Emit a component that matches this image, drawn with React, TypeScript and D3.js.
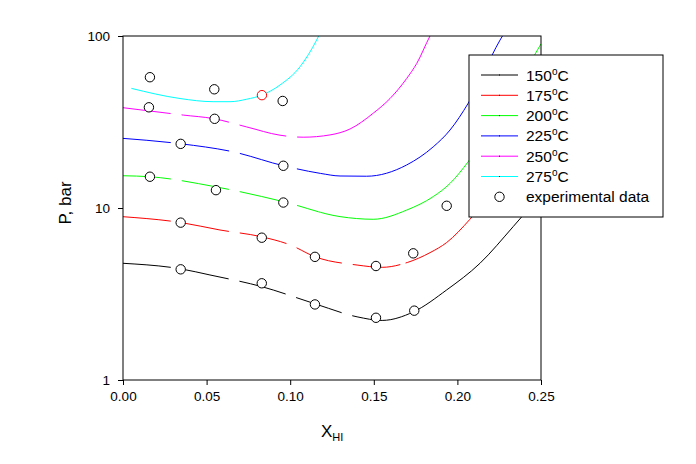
import { useEffect, useRef } from 'react';
import * as d3 from 'd3';

// model curves, [x_HI, P bar]
const curve150 = [
  [0, 4.77], [0.035, 4.42], [0.052, 4.08], [0.083, 3.49], [0.115, 2.77], [0.14, 2.33],
  [0.155, 2.22], [0.1737, 2.49], [0.1936, 3.34], [0.2135, 4.77], [0.2334, 7.8], [0.25, 12],
];
const curve175 = [
  [0, 8.9], [0.035, 8.22], [0.058, 7.45], [0.083, 6.8], [0.1, 6.1], [0.115, 5.2], [0.14, 4.66],
  [0.155, 4.52], [0.17, 4.82], [0.1836, 5.5], [0.1936, 6.3], [0.2075, 8.6], [0.225, 14], [0.25, 25],
];
const curve200 = [
  [0, 15.4], [0.016, 15.2], [0.055, 13.3], [0.096, 10.88], [0.1298, 8.91], [0.1497, 8.6],
  [0.1697, 9.73], [0.1856, 11.66], [0.1956, 13.9], [0.2065, 18.6], [0.225, 35], [0.25, 90],
];
const curve225 = [
  [0, 25.4], [0.035, 23.6], [0.066, 21.2], [0.096, 17.6], [0.118, 15.9], [0.1298, 15.35],
  [0.1457, 15.3], [0.1697, 17.8], [0.1856, 22.7], [0.1956, 28.4], [0.2065, 40.7], [0.2255, 94.7],
  [0.232, 120],
];
const curve250 = [
  [0, 38.3], [0.036, 34.7], [0.054, 33.1], [0.074, 29.6], [0.0939, 26.5], [0.1078, 25.8],
  [0.1238, 26.6], [0.1358, 28.8], [0.1497, 35.6], [0.1597, 43.3], [0.1697, 56.7],
  [0.1757, 69.3], [0.1836, 100], [0.187, 115],
];
const curve275 = [
  [0.005, 49.6], [0.0341, 43.3], [0.054, 41.5], [0.064, 41.5], [0.074, 42.9], [0.083, 45.3],
  [0.0939, 51.9], [0.1059, 66.3], [0.1158, 94.7], [0.12, 115],
];

const seriesNames = ['150', '175', '200', '225', '250', '275'];
const seriesCurves = [curve150, curve175, curve200, curve225, curve250, curve275];

// experimental data
const expX = [
  0.0161, 0.0546, 0.0955, 0.0155, 0.0548, 0.0345, 0.0959, 0.0161, 0.0556, 0.0959, 0.1936,
  0.0345, 0.083, 0.1148, 0.1513, 0.1736, 0.0345, 0.083, 0.1148, 0.1513, 0.1742,
];
const expP = [
  57.6, 49.0, 41.9, 38.5, 33.0, 23.6, 17.6, 15.2, 12.7, 10.76, 10.3,
  8.22, 6.72, 5.2, 4.6, 5.45, 4.4, 3.65, 2.75, 2.3, 2.53,
];
const outlierX = [0.0831];
const outlierP = [45.3];

const xTicks = [0, 0.05, 0.1, 0.15, 0.2, 0.25];
const yTicks = [1, 10, 100];

const colors = ['#000000', '#ff0000', '#00ff00', '#0000ff', '#ff00ff', '#00ffff'];
// x value after which each curve is drawn solid (dashed before)
const solidFrom = [0.165, 0.169, 0.118, 0.122, 0.116, 0];

const FONT = '"Liberation Sans", Arial, sans-serif';

const Chart = () => {
  const svgRef = useRef(null);

  useEffect(() => {
    const width = 696;
    const height = 464;
    const margin = { top: 36, right: 155, bottom: 84, left: 123 };

    const svg = d3.select(svgRef.current).attr('width', width).attr('height', height);
    svg.selectAll('*').remove();

    const x = d3.scaleLinear().domain([0, 0.25]).range([margin.left, width - margin.right]);
    const y = d3.scaleLog().domain([1, 100]).range([height - margin.bottom, margin.top]);
    const x0 = x.range()[0];
    const x1 = x.range()[1];
    const yb = y.range()[0];
    const yt = y.range()[1];

    const defs = svg.append('defs');
    defs.append('clipPath').attr('id', 'plot')
      .append('rect').attr('x', x0).attr('y', yt).attr('width', x1 - x0).attr('height', yb - yt);

    const line = d3.line()
      .x((d) => x(d[0]))
      .y((d) => y(d[1]))
      .curve(d3.curveMonotoneX);

    const curves = svg.append('g').attr('clip-path', 'url(#plot)');
    seriesCurves.forEach((data, i) => {
      const xs = x(solidFrom[i]);
      defs.append('clipPath').attr('id', `dash${i}`)
        .append('rect').attr('x', 0).attr('y', 0).attr('width', xs).attr('height', height);
      defs.append('clipPath').attr('id', `solid${i}`)
        .append('rect').attr('x', xs).attr('y', 0).attr('width', width - xs).attr('height', height);

      curves.append('g').attr('clip-path', `url(#dash${i})`)
        .append('path').datum(data)
        .attr('d', line).attr('fill', 'none').attr('stroke', colors[i]).attr('stroke-width', 1)
        .attr('stroke-dasharray', '48,11');
      curves.append('g').attr('clip-path', `url(#solid${i})`)
        .append('path').datum(data)
        .attr('d', line).attr('fill', 'none').attr('stroke', colors[i]).attr('stroke-width', 1);
    });

    // frame
    svg.append('rect')
      .attr('x', x0).attr('y', yt).attr('width', x1 - x0).attr('height', yb - yt)
      .attr('fill', 'none').attr('stroke', '#000').attr('stroke-width', 1);

    const xAxis = svg.append('g')
      .attr('transform', `translate(0,${yb})`)
      .call(d3.axisBottom(x).tickValues(xTicks).tickFormat(d3.format('.2f')).tickSize(5).tickPadding(6));
    xAxis.select('.domain').remove();
    xAxis.selectAll('text').style('font-family', FONT).style('font-size', '13.5px').attr('fill', '#000');

    const yAxis = svg.append('g')
      .attr('transform', `translate(${x0},0)`)
      .call(d3.axisLeft(y).tickValues(yTicks).tickFormat(d3.format('d')).tickSize(5).tickPadding(8));
    yAxis.select('.domain').remove();
    yAxis.selectAll('text').style('font-family', FONT).style('font-size', '13.5px').attr('fill', '#000');

    // experimental points
    const pts = d3.zip(expX, expP);
    svg.append('g').selectAll('circle').data(pts).join('circle')
      .attr('cx', (d) => x(d[0])).attr('cy', (d) => y(d[1])).attr('r', 4.7)
      .attr('fill', '#fff').attr('stroke', '#000').attr('stroke-width', 1);
    svg.append('g').selectAll('circle').data(d3.zip(outlierX, outlierP)).join('circle')
      .attr('cx', (d) => x(d[0])).attr('cy', (d) => y(d[1])).attr('r', 4.7)
      .attr('fill', '#fff').attr('stroke', '#ff0000').attr('stroke-width', 1);

    // axis titles
    svg.append('text')
      .attr('transform', `translate(71,203) rotate(-90)`)
      .attr('text-anchor', 'middle')
      .style('font-family', FONT).style('font-size', '17px')
      .text('P, bar');

    const xt = svg.append('text')
      .attr('x', 321).attr('y', 437)
      .style('font-family', FONT).style('font-size', '17px');
    xt.append('tspan').text('X');
    xt.append('tspan').attr('dy', 4).style('font-size', '11px').text('HI');

    // legend
    const lg = svg.append('g').attr('transform', 'translate(469,55)');
    lg.append('rect').attr('width', 194).attr('height', 162)
      .attr('fill', '#fff').attr('stroke', '#000').attr('stroke-width', 1);
    seriesNames.forEach((name, i) => {
      const ly = 20 + i * 20.3;
      lg.append('line').attr('x1', 12).attr('x2', 49).attr('y1', ly).attr('y2', ly)
        .attr('stroke', colors[i]).attr('stroke-width', 1);
      lg.append('rect').attr('x', 30).attr('y', ly - 0.5).attr('width', 1).attr('height', 1).attr('fill', '#000');
      const t = lg.append('text').attr('x', 57).attr('y', ly + 5.5)
        .style('font-family', FONT).style('font-size', '15.5px');
      t.append('tspan').text(name);
      t.append('tspan').attr('dy', -6).style('font-size', '10px').text('o');
      t.append('tspan').attr('dy', 6).text('C');
    });
    const ey = 20 + 6 * 20.3;
    lg.append('circle').attr('cx', 30.5).attr('cy', ey).attr('r', 4.7)
      .attr('fill', '#fff').attr('stroke', '#000').attr('stroke-width', 1);
    lg.append('text').attr('x', 57).attr('y', ey + 5.5)
      .style('font-family', FONT).style('font-size', '15.5px')
      .text('experimental data');
  }, []);

  return <svg ref={svgRef} style={{ position: 'absolute', left: 0, top: 0 }}></svg>;
};

export default function App() {
  return (
    <div style={{ width: 696, height: 464, background: '#fff' }}>
      <Chart />
    </div>
  );
}
